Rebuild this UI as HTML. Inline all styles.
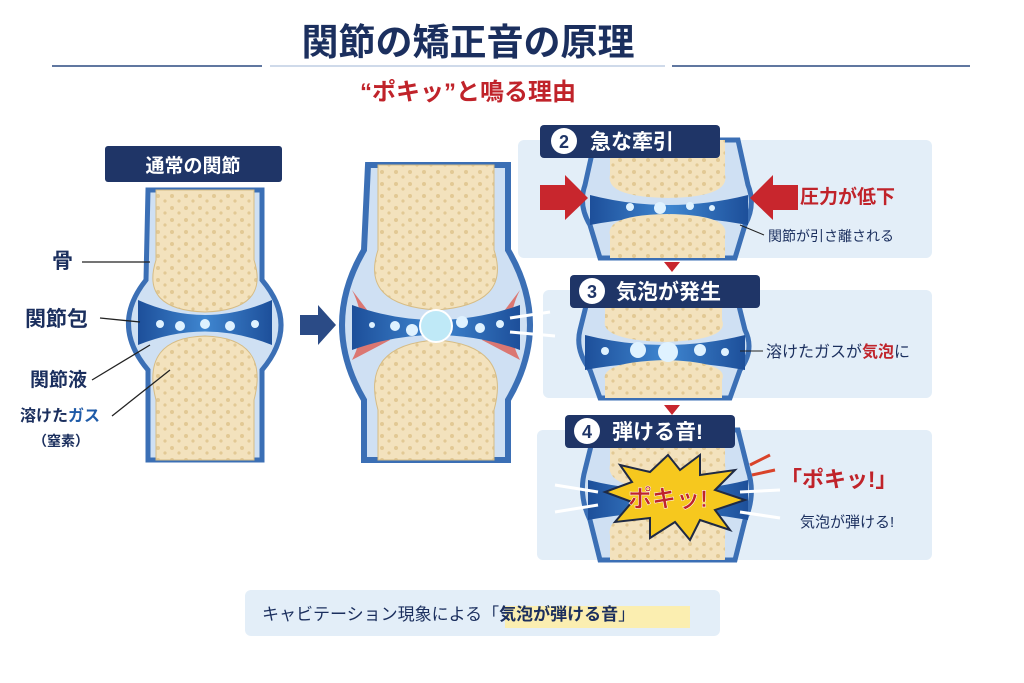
<!DOCTYPE html>
<html><head><meta charset="utf-8"><style>
body{margin:0;background:#fff}
svg{display:block}
text{font-family:"Liberation Sans","Noto Sans CJK JP",sans-serif}
</style></head><body>
<svg width="1024" height="683" viewBox="0 0 1024 683" xmlns="http://www.w3.org/2000/svg">
<defs>
<pattern id="sp" width="14" height="12" patternUnits="userSpaceOnUse"><rect width="14" height="12" fill="#f3e2bd"/><circle cx="4" cy="4" r="2" fill="#e2c994"/><circle cx="11" cy="9" r="1.6" fill="#e2c994"/></pattern>
<linearGradient id="bl" x1="0" x2="1"><stop offset="0" stop-color="#1d4f9a"/><stop offset=".5" stop-color="#3f86d0"/><stop offset="1" stop-color="#1d4f9a"/></linearGradient>
</defs>
<!-- title -->
<line x1="52" y1="66" x2="262" y2="66" stroke="#2c4a80" stroke-width="1.5"/>
<line x1="672" y1="66" x2="970" y2="66" stroke="#2c4a80" stroke-width="1.5"/>
<line x1="270" y1="66" x2="665" y2="66" stroke="#9fb4d4" stroke-width="1"/>
<text x="468" y="55" text-anchor="middle" font-size="37" font-weight="bold" fill="#1b2f5e">関節の矯正音の原理</text>
<text x="468" y="100" text-anchor="middle" font-size="24" font-weight="bold" fill="#c0232a">“ポキッ”と鳴る理由</text>

<!-- panels -->
<rect x="518" y="140" width="414" height="118" rx="6" fill="#e3eef8"/>
<rect x="543" y="290" width="389" height="108" rx="6" fill="#e3eef8"/>
<rect x="537" y="430" width="395" height="130" rx="6" fill="#e3eef8"/>
<rect x="245" y="590" width="475" height="46" rx="6" fill="#e3eef8"/>

<!-- joint 1 -->
<g>
<path d="M148 190 L146 280 Q110 325 148 370 L148 460 L262 460 L262 370 Q300 325 262 280 L262 190 Z" fill="#cfe0f3" stroke="#3b6fb5" stroke-width="5"/>
<path d="M138 300 Q205 330 272 300 L272 345 Q205 318 138 345 Z" fill="url(#bl)"/>
<path d="M156 190 L156 260 Q140 310 205 312 Q270 310 254 260 L254 190 Z" fill="url(#sp)" stroke="#d6bc85"/>
<path d="M156 460 L156 400 Q140 338 205 336 Q270 338 254 400 L254 460 Z" fill="url(#sp)" stroke="#d6bc85"/>
<g fill="#dff2ff"><circle cx="160" cy="324" r="4"/><circle cx="180" cy="326" r="5"/><circle cx="205" cy="324" r="5"/><circle cx="230" cy="326" r="5"/><circle cx="255" cy="324" r="4"/></g>
</g>
<rect x="105" y="146" width="177" height="36" rx="3" fill="#1f3567"/>
<text x="193" y="172" text-anchor="middle" font-size="19" font-weight="bold" fill="#fff">通常の関節</text>
<g font-weight="bold" fill="#1b2f5e">
<text x="52" y="268" font-size="21">骨</text>
<text x="25" y="326" font-size="21">関節包</text>
<text x="30" y="386" font-size="19">関節液</text>
<text x="20" y="421" font-size="16">溶けた<tspan fill="#1f5ba8">ガス</tspan></text>
<text x="33" y="446" font-size="14">（窒素）</text>
</g>
<g stroke="#222" stroke-width="1.3"><line x1="82" y1="262" x2="150" y2="262"/><line x1="100" y1="318" x2="140" y2="322"/><line x1="92" y1="380" x2="150" y2="345"/><line x1="112" y1="416" x2="170" y2="370"/></g>

<!-- arrow -->
<path d="M300 315 L318 315 L318 305 L336 325 L318 345 L318 335 L300 335 Z" fill="#2b4b86"/>

<!-- joint 2 -->
<g>
<path d="M368 165 L364 250 Q320 325 364 400 L364 460 L508 460 L508 400 Q552 325 508 250 L508 165 Z" fill="#cfe0f3" stroke="#3b6fb5" stroke-width="6"/>
<path d="M352 290 Q370 325 352 360 L390 340 Z" fill="#e04a3a" opacity=".7"/>
<path d="M520 290 Q502 325 520 360 L482 340 Z" fill="#e04a3a" opacity=".7"/>
<path d="M352 305 Q435 335 520 305 L520 350 Q435 320 352 350 Z" fill="url(#bl)"/>
<path d="M378 165 L378 250 Q360 305 436 310 Q512 305 494 250 L494 165 Z" fill="url(#sp)" stroke="#d6bc85"/>
<path d="M378 460 L378 410 Q360 345 436 340 Q512 345 494 410 L494 460 Z" fill="url(#sp)" stroke="#d6bc85"/>
<circle cx="436" cy="326" r="16" fill="#bfe9f7" stroke="#fff" stroke-width="2"/>
<g fill="#dff2ff"><circle cx="395" cy="326" r="5"/><circle cx="412" cy="330" r="6"/><circle cx="462" cy="322" r="6"/><circle cx="480" cy="328" r="5"/><circle cx="500" cy="324" r="4"/><circle cx="372" cy="325" r="3"/></g>
<g stroke="#fff" stroke-width="3"><line x1="510" y1="318" x2="550" y2="312"/><line x1="510" y1="332" x2="555" y2="336"/></g>
</g>

<!-- panel 2 joint -->
<g>
<path d="M595 140 L585 185 Q578 205 590 225 L600 258 L735 258 L745 225 Q756 205 748 185 L738 140 Z" fill="#cfe0f3" stroke="#3b6fb5" stroke-width="5"/>
<path d="M590 195 Q668 215 748 195 L748 225 Q668 210 590 225 Z" fill="url(#bl)"/>
<path d="M610 140 L610 175 Q605 197 668 198 Q730 197 725 175 L725 140 Z" fill="url(#sp)"/>
<path d="M610 258 L610 235 Q605 215 668 214 Q730 215 725 235 L725 258 Z" fill="url(#sp)"/>
<g fill="#dff2ff"><circle cx="630" cy="207" r="4"/><circle cx="660" cy="208" r="6"/><circle cx="690" cy="206" r="4"/><circle cx="712" cy="208" r="3"/></g>
<path d="M540 185 L565 185 L565 175 L588 198 L565 220 L565 210 L540 210 Z" fill="#c8262d"/>
<path d="M798 185 L773 185 L773 175 L750 198 L773 220 L773 210 L798 210 Z" fill="#c8262d"/>
</g>
<rect x="540" y="125" width="180" height="33" rx="4" fill="#1f3567"/>
<circle cx="564" cy="141" r="13" fill="#fff"/><text x="564" y="148" text-anchor="middle" font-size="18" font-weight="bold" fill="#1f3567">2</text>
<text x="590" y="149" font-size="21" font-weight="bold" fill="#fff">急な牽引</text>
<text x="800" y="203" font-size="19" font-weight="bold" fill="#c0232a">圧力が低下</text>
<text x="768" y="241" font-size="14" fill="#1b2f5e">関節が引さ離される</text>
<line x1="740" y1="225" x2="764" y2="235" stroke="#222"/>
<path d="M664 262 L680 262 L672 272 Z" fill="#c8262d"/>

<!-- panel 3 joint -->
<g>
<path d="M590 290 L580 330 Q575 350 590 370 L600 398 L730 398 L740 370 Q755 350 745 330 L735 290 Z" fill="#cfe0f3" stroke="#3b6fb5" stroke-width="5"/>
<path d="M585 335 Q665 355 745 335 L745 370 Q665 355 585 370 Z" fill="url(#bl)"/>
<path d="M605 290 L605 320 Q600 340 665 342 Q730 340 722 320 L722 290 Z" fill="url(#sp)"/>
<path d="M605 398 L605 380 Q600 362 665 360 Q730 362 722 380 L722 398 Z" fill="url(#sp)"/>
<g fill="#dff2ff"><circle cx="605" cy="351" r="4"/><circle cx="638" cy="350" r="8"/><circle cx="668" cy="352" r="10"/><circle cx="700" cy="350" r="6"/><circle cx="725" cy="352" r="4"/></g>
</g>
<rect x="570" y="275" width="190" height="33" rx="4" fill="#1f3567"/>
<circle cx="592" cy="291" r="13" fill="#fff"/><text x="592" y="298" text-anchor="middle" font-size="18" font-weight="bold" fill="#1f3567">3</text>
<text x="616" y="299" font-size="21" font-weight="bold" fill="#fff">気泡が発生</text>
<text x="766" y="357" font-size="16" fill="#1b2f5e">溶けたガスが<tspan fill="#c0232a" font-weight="bold">気泡</tspan>に</text>
<line x1="740" y1="351" x2="763" y2="351" stroke="#222"/>
<path d="M664 405 L680 405 L672 415 Z" fill="#c8262d"/>

<!-- panel 4 joint -->
<g>
<path d="M595 430 L585 470 Q578 495 590 520 L600 560 L735 560 L745 520 Q756 495 748 470 L738 430 Z" fill="#cfe0f3" stroke="#3b6fb5" stroke-width="5"/>
<path d="M588 480 Q668 500 748 480 L748 520 Q668 505 588 520 Z" fill="url(#bl)"/>
<path d="M610 430 L610 465 Q605 488 668 490 Q730 488 725 465 L725 430 Z" fill="url(#sp)"/>
<path d="M610 560 L610 535 Q605 512 668 510 Q730 512 725 535 L725 560 Z" fill="url(#sp)"/>
<path d="M668 455 L680 470 L700 455 L700 475 L735 470 L715 490 L745 500 L715 510 L730 530 L700 520 L690 540 L675 522 L650 538 L650 518 L615 522 L632 502 L605 492 L632 482 L620 465 L650 472 Z" fill="#f6c81e" stroke="#1f2a44" stroke-width="2"/>
<text x="668" y="507" text-anchor="middle" font-size="24" font-weight="bold" fill="#c0232a" stroke="#fff" stroke-width="0.5">ポキッ!</text>
<g stroke="#fff" stroke-width="3"><line x1="555" y1="485" x2="598" y2="492"/><line x1="555" y1="512" x2="598" y2="505"/><line x1="740" y1="492" x2="780" y2="490"/><line x1="740" y1="512" x2="780" y2="518"/></g>
<g stroke="#d9432a" stroke-width="3"><line x1="750" y1="465" x2="770" y2="455"/><line x1="752" y1="475" x2="775" y2="470"/></g>
</g>
<rect x="565" y="415" width="170" height="33" rx="4" fill="#1f3567"/>
<circle cx="587" cy="431" r="13" fill="#fff"/><text x="587" y="438" text-anchor="middle" font-size="18" font-weight="bold" fill="#1f3567">4</text>
<text x="612" y="439" font-size="21" font-weight="bold" fill="#fff">弾ける音!</text>
<text x="780" y="487" font-size="22" font-weight="bold" fill="#c0232a">「ポキッ!」</text>
<text x="800" y="527" font-size="15" fill="#1b2f5e">気泡が弾ける!</text>

<!-- bottom -->
<path d="M505 606 L690 606 L690 628 L505 628 Z" fill="#fbeeb0"/>
<text x="262" y="620" font-size="17" fill="#1b2f5e">キャビテーション現象による「<tspan font-weight="bold">気泡が弾ける音</tspan>」</text>
</svg>
</body></html>
